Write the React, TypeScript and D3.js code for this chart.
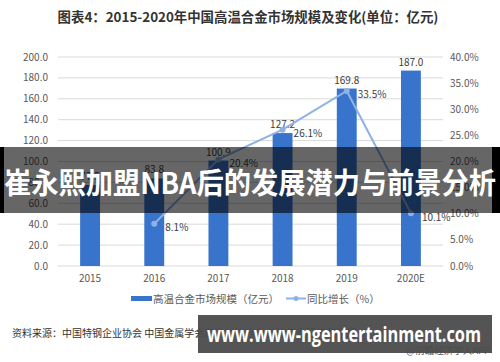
import React, { useEffect, useRef } from "react";
import * as d3 from "d3";

// chart data
const years = ["2015", "2016", "2017", "2018", "2019", "2020E"];
const marketSize = [77.5, 83.8, 100.9, 127.2, 169.8, 187.0];
const growth: (number | null)[] = [null, 8.1, 20.4, 26.1, 33.5, 10.1];
const leftTicks = [0, 20, 40, 60, 80, 100, 120, 140, 160, 180, 200];
const rightTicks = [0, 5, 10, 15, 20, 25, 30, 35, 40];

const W = 500;
const H = 362;
const FONT = "'Noto Sans CJK SC', 'Noto Sans', sans-serif";

const App = () => {
  const ref = useRef<SVGSVGElement>(null);

  useEffect(() => {
    const svg = d3.select(ref.current);
    svg.selectAll("*").remove();

    const x = d3.scaleBand().domain(years).range([58, 443]).paddingInner(0.69).paddingOuter(0.345);
    const yL = d3.scaleLinear().domain([0, 200]).range([266, 57]);
    const yR = d3.scaleLinear().domain([0, 40]).range([266, 57]);

    svg.append("rect").attr("width", W).attr("height", H).attr("fill", "#ffffff");

    // title
    svg.append("text")
      .attr("x", 248).attr("y", 22)
      .attr("text-anchor", "middle")
      .attr("font-size", 13.4).attr("font-weight", "bold")
      .attr("fill", "#333")
      .text("图表4：2015-2020年中国高温合金市场规模及变化(单位：亿元)");

    // grid
    svg.append("g")
      .selectAll("line")
      .data(leftTicks)
      .join("line")
      .attr("x1", 58).attr("x2", 443)
      .attr("y1", d => yL(d)).attr("y2", d => yL(d))
      .attr("stroke", "#d9d9d9").attr("stroke-width", 1);

    // left axis labels
    svg.append("g")
      .selectAll("text")
      .data(leftTicks)
      .join("text")
      .attr("x", 48).attr("y", d => yL(d))
      .attr("dy", "0.35em")
      .attr("text-anchor", "end")
      .attr("font-size", 10).attr("fill", "#595959")
      .text(d => d.toFixed(1));

    // right axis labels
    svg.append("g")
      .selectAll("text")
      .data(rightTicks)
      .join("text")
      .attr("x", 450).attr("y", d => yR(d))
      .attr("dy", "0.35em")
      .attr("font-size", 10).attr("fill", "#595959")
      .text(d => d.toFixed(1) + "%");

    // x labels
    svg.append("g")
      .selectAll("text")
      .data(years)
      .join("text")
      .attr("x", d => x(d)! + x.bandwidth() / 2).attr("y", 282)
      .attr("text-anchor", "middle")
      .attr("font-size", 10).attr("fill", "#595959")
      .text(d => d);

    // bars
    svg.append("g")
      .selectAll("rect")
      .data(marketSize)
      .join("rect")
      .attr("x", (d, i) => x(years[i])!)
      .attr("y", d => yL(d))
      .attr("width", x.bandwidth())
      .attr("height", d => yL(0) - yL(d))
      .attr("fill", "#3874cb");

    svg.append("g")
      .selectAll("text")
      .data(marketSize)
      .join("text")
      .attr("x", (d, i) => x(years[i])! + x.bandwidth() / 2)
      .attr("y", d => yL(d) - 5)
      .attr("text-anchor", "middle")
      .attr("font-size", 10).attr("fill", "#404040")
      .text(d => d.toFixed(1));

    // growth line
    const pts = growth
      .map((g, i) => ({ g, year: years[i] }))
      .filter(p => p.g !== null) as { g: number; year: string }[];

    const line = d3.line<{ g: number; year: string }>()
      .x(p => x(p.year)! + x.bandwidth() / 2)
      .y(p => yR(p.g));

    svg.append("path")
      .datum(pts)
      .attr("d", line)
      .attr("fill", "none")
      .attr("stroke", "#8eb1e6")
      .attr("stroke-width", 2);

    svg.append("g")
      .selectAll("circle")
      .data(pts)
      .join("circle")
      .attr("cx", p => x(p.year)! + x.bandwidth() / 2)
      .attr("cy", p => yR(p.g))
      .attr("r", 3)
      .attr("fill", "#8eb1e6");

    svg.append("g")
      .selectAll("text")
      .data(pts)
      .join("text")
      .attr("x", p => x(p.year)! + x.bandwidth() / 2 + 11)
      .attr("y", p => yR(p.g) + 4)
      .attr("dy", "0.35em")
      .attr("font-size", 10).attr("fill", "#404040")
      .text(p => p.g.toFixed(1) + "%");

    // legend
    const lg = svg.append("g").attr("font-size", 10.5).attr("fill", "#595959");
    lg.append("rect").attr("x", 131).attr("y", 296).attr("width", 21).attr("height", 5).attr("fill", "#3874cb");
    lg.append("text").attr("x", 153).attr("y", 299).attr("dy", "0.35em").text("高温合金市场规模（亿元）");
    lg.append("line").attr("x1", 286).attr("x2", 306).attr("y1", 298.5).attr("y2", 298.5)
      .attr("stroke", "#8eb1e6").attr("stroke-width", 2);
    lg.append("circle").attr("cx", 296).attr("cy", 298.5).attr("r", 2.5).attr("fill", "#8eb1e6");
    lg.append("text").attr("x", 307).attr("y", 299).attr("dy", "0.35em").text("同比增长（%）");

    // source
    svg.append("text")
      .attr("x", 12).attr("y", 333).attr("dy", "0.35em")
      .attr("font-size", 10).attr("fill", "#333")
      .text("资料来源：中国特钢企业协会 中国金属学会高温材料分会 前瞻产业研究院整理");
    svg.append("text")
      .attr("x", 490).attr("y", 351).attr("dy", "0.35em")
      .attr("text-anchor", "end")
      .attr("font-size", 9.5).attr("fill", "#555")
      .text("@前瞻经济学人APP");

    // overlay band
    svg.append("rect").attr("x", 0).attr("y", 147).attr("width", 4).attr("height", 66).attr("fill", "#000");
    svg.append("rect").attr("x", 492).attr("y", 147).attr("width", 8).attr("height", 66).attr("fill", "#000");
    svg.append("rect").attr("x", 4).attr("y", 147).attr("width", 488).attr("height", 66).attr("fill", "rgba(0,0,0,0.6)");
    svg.append("text")
      .attr("x", 4).attr("y", 184).attr("dy", "0.35em")
      .attr("font-size", 29).attr("font-weight", "bold").attr("fill", "#fff")
      .attr("textLength", 492).attr("lengthAdjust", "spacingAndGlyphs")
      .text("崔永熙加盟NBA后的发展潜力与前景分析");

    // bottom banner
    svg.append("rect").attr("x", 198).attr("y", 315).attr("width", 294).attr("height", 38).attr("fill", "rgba(75,75,75,0.95)");
    svg.append("text")
      .attr("x", 207).attr("y", 334).attr("dy", "0.35em")
      .attr("font-family", "'Open Sans', 'DejaVu Sans', sans-serif")
      .attr("font-size", 22).attr("font-weight", "bold").attr("fill", "#fff")
      .attr("textLength", 274).attr("lengthAdjust", "spacingAndGlyphs")
      .text("www.www-ngentertainment.com");
  }, []);

  return (
    <svg
      ref={ref}
      width={W}
      height={H}
      style={{ position: "absolute", left: 0, top: 0, display: "block", fontFamily: FONT }}
    />
  );
};

export default App;
